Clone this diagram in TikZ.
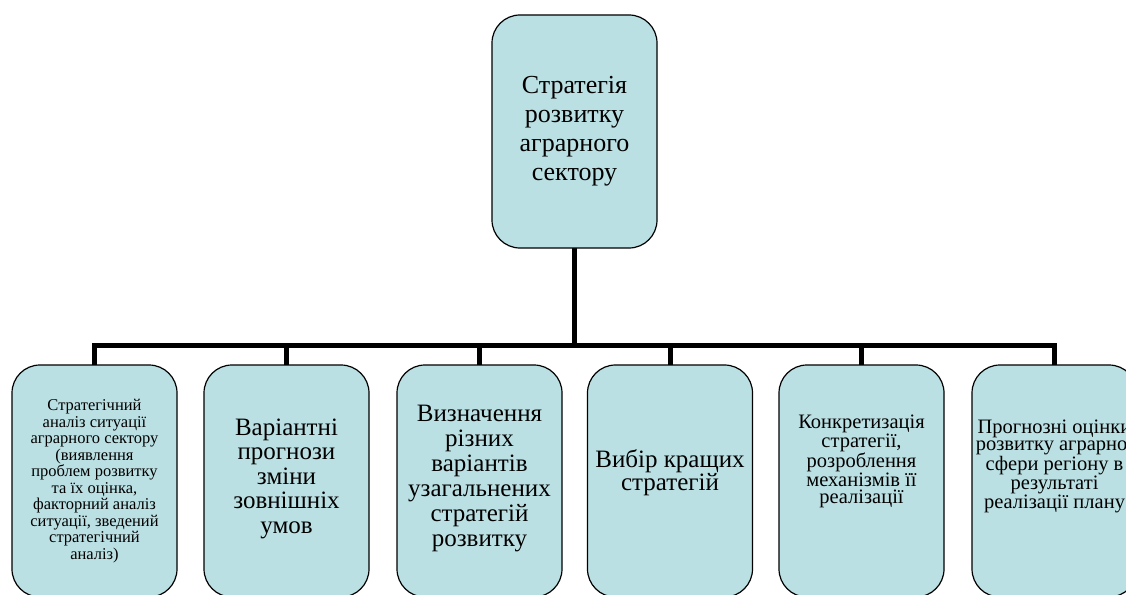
\documentclass[tikz,border=0pt]{standalone}
\usepackage{fontspec}
\setmainfont{Liberation Serif}
\newfontfamily\boxfont{Liberation Serif}
\definecolor{boxfill}{RGB}{187,224,227}
% extra depth under the last line, lifts the text in its box
\newcommand{\textlift}[1]{\rule[-#1]{0pt}{0pt}}
\begin{document}
\begin{tikzpicture}[
        x=1pt, y=-1pt,
        box/.style={draw=black, line width=1.2pt, fill=boxfill, rounded corners=28pt,
            minimum width=165pt, align=center, inner sep=3pt},
        step box/.style={box, minimum height=232pt},
        link/.style={line width=5pt, draw=black}
    ]
    \useasboundingbox (0,0) rectangle (1126,594);
    \clip (0,0) rectangle (1126,594);

    % connectors
    \coordinate (bar) at (574.5,345);
    \draw[link] (574.5,247) -- (bar);
    \draw[link] (94.5,366) -- (94.5,345) -- (1054.5,345) -- (1054.5,366);
    \foreach \x in {286.5, 479.5, 670, 861.5} {
        \draw[link] (\x,345) -- (\x,366);
    }

    % root
    \node[box, minimum height=233pt, font=\boxfont\fontsize{26}{29}\selectfont] (root) at (574.5,131.5)
        {Стратегія\\розвитку\\аграрного\\сектору};

    % steps
    \node[step box, font=\boxfont\fontsize{16.5}{16.5}\selectfont] (analysis) at (94.5,481)
        {Стратегічний\\аналіз ситуації\\аграрного сектору\\(виявлення\\проблем розвитку\\та їх оцінка,\\факторний аналіз\\ситуації, зведений\\стратегічний\\аналіз)};
    \node[step box, font=\boxfont\fontsize{25}{24.5}\selectfont] (forecast) at (286.5,481)
        {Варіантні\\прогнози\\зміни\\зовнішніх\\умов\textlift{10pt}};
    \node[step box, font=\boxfont\fontsize{25}{25}\selectfont] (variants) at (479.5,481)
        {Визначення\\різних\\варіантів\\узагальнених\\стратегій\\розвитку\textlift{10pt}};
    \node[step box, font=\boxfont\fontsize{25}{20}\selectfont] (choice) at (670,481)
        {Вибір кращих\\стратегій\textlift{22pt}};
    \node[step box, font=\boxfont\fontsize{20.5}{16.5}\selectfont] (detail) at (861.5,481)
        {Конкретизація\\стратегії,\\розроблення\\механізмів її\\реалізації\textlift{44pt}};
    \node[step box, font=\boxfont\fontsize{20.5}{17.5}\selectfont] (outlook) at (1054.5,481)
        {Прогнозні оцінки\\розвитку аграрної\\сфери регіону в\\результаті\\реалізації плану\textlift{34pt}};
\end{tikzpicture}
\end{document}
